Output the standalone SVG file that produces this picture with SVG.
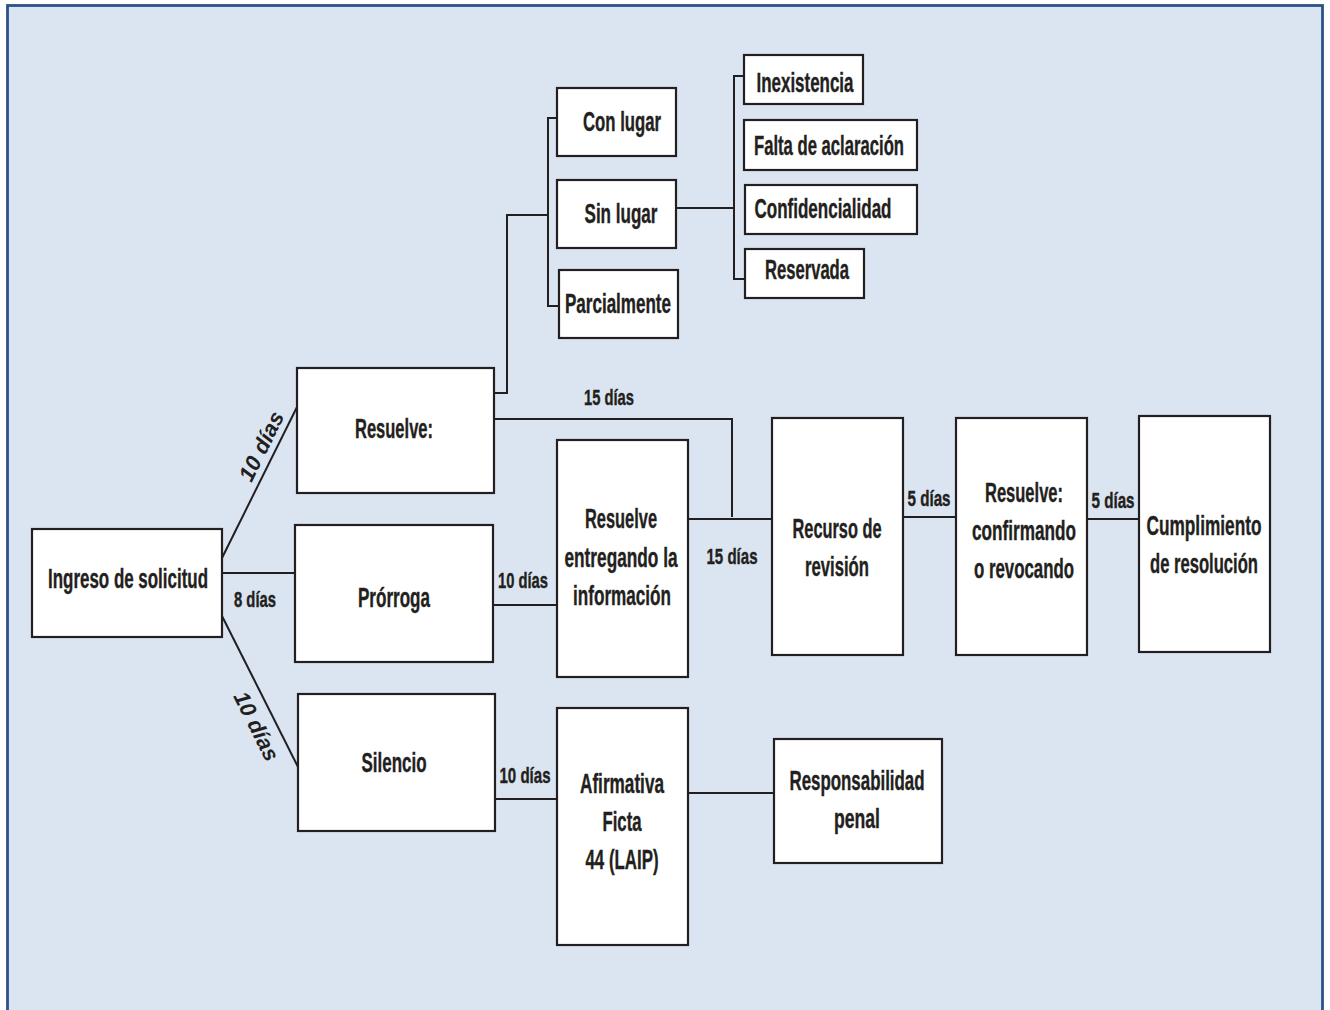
<svg xmlns="http://www.w3.org/2000/svg" width="1330" height="1010" viewBox="0 0 1330 1010">
<style>
.box{fill:#fff;stroke:#231f20;stroke-width:2.2}
.c{fill:none;stroke:#231f20;stroke-width:2}
.t{font-family:"Liberation Sans",Arial,sans-serif;font-weight:bold;font-size:27px;fill:#231f20;stroke:#231f20;stroke-width:0.4;text-anchor:middle}
.s{font-size:22px}
.r{font-family:"Liberation Sans",Arial,sans-serif;font-weight:bold;font-style:italic;font-size:22px;fill:#231f20;text-anchor:middle}
</style>
<rect x="0" y="0" width="1330" height="1010" fill="#fff"/>
<rect x="7.5" y="5.5" width="1315" height="1030" fill="#dbe5f1" stroke="#2b5289" stroke-width="2.8"/>
<g id="connectors">
<path class="c" d="M222,558 L297,407"/>
<path class="c" d="M222,573 H295"/>
<path class="c" d="M222,616 L298,767"/>
<path class="c" d="M494,393 H507 V215 H548"/>
<path class="c" d="M557,118 H548 V306 H559"/>
<path class="c" d="M676,208 H734"/>
<path class="c" d="M744,76 H734 V279 H745"/>
<path class="c" d="M494,419 H732 V517"/>
<path class="c" d="M688,519 H772"/>
<path class="c" d="M493,605 H557"/>
<path class="c" d="M903,517 H956"/>
<path class="c" d="M1087,519 H1139"/>
<path class="c" d="M495,799 H557"/>
<path class="c" d="M688,793 H774"/>
<text class="t s" x="609" y="405" textLength="50" lengthAdjust="spacingAndGlyphs">15 días</text>
<text class="t s" x="732" y="564" textLength="51" lengthAdjust="spacingAndGlyphs">15 días</text>
<text class="t s" x="523" y="588" textLength="50" lengthAdjust="spacingAndGlyphs">10 días</text>
<text class="t s" x="255" y="607" textLength="42" lengthAdjust="spacingAndGlyphs">8 días</text>
<text class="t s" x="525" y="783" textLength="51" lengthAdjust="spacingAndGlyphs">10 días</text>
<text class="t s" x="929" y="506" textLength="43" lengthAdjust="spacingAndGlyphs">5 días</text>
<text class="t s" x="1113" y="508" textLength="43" lengthAdjust="spacingAndGlyphs">5 días</text>
<text class="r" transform="translate(261,446) rotate(-63.6)" y="8">10 días</text>
<text class="r" transform="translate(257,726) rotate(63.3)" y="8">10 días</text>
</g>
<g id="ingreso"><rect class="box" x="32" y="529" width="190" height="108"/><text class="t" x="128" y="588" textLength="160" lengthAdjust="spacingAndGlyphs">Ingreso de solicitud</text></g>
<g id="resuelve"><rect class="box" x="297" y="368" width="197" height="125"/><text class="t" x="394" y="438" textLength="78" lengthAdjust="spacingAndGlyphs">Resuelve:</text></g>
<g id="prorroga"><rect class="box" x="295" y="525" width="198" height="137"/><text class="t" x="394" y="607" textLength="72" lengthAdjust="spacingAndGlyphs">Prórroga</text></g>
<g id="silencio"><rect class="box" x="298" y="694" width="197" height="137"/><text class="t" x="394" y="772" textLength="65" lengthAdjust="spacingAndGlyphs">Silencio</text></g>
<g id="entregando"><rect class="box" x="557" y="440" width="131" height="237"/>
<text class="t" x="621" y="528" textLength="72" lengthAdjust="spacingAndGlyphs">Resuelve</text>
<text class="t" x="621" y="567" textLength="113" lengthAdjust="spacingAndGlyphs">entregando la</text>
<text class="t" x="622" y="605" textLength="98" lengthAdjust="spacingAndGlyphs">información</text></g>
<g id="afirmativa"><rect class="box" x="557" y="708" width="131" height="237"/>
<text class="t" x="622" y="793" textLength="84" lengthAdjust="spacingAndGlyphs">Afirmativa</text>
<text class="t" x="622" y="831" textLength="39" lengthAdjust="spacingAndGlyphs">Ficta</text>
<text class="t" x="622" y="869" textLength="73" lengthAdjust="spacingAndGlyphs">44 (LAIP)</text></g>
<g id="responsabilidad"><rect class="box" x="774" y="739" width="168" height="124"/>
<text class="t" x="857" y="790" textLength="135" lengthAdjust="spacingAndGlyphs">Responsabilidad</text>
<text class="t" x="857" y="828" textLength="46" lengthAdjust="spacingAndGlyphs">penal</text></g>
<g id="recurso"><rect class="box" x="772" y="418" width="131" height="237"/>
<text class="t" x="837" y="538" textLength="89" lengthAdjust="spacingAndGlyphs">Recurso de</text>
<text class="t" x="837" y="576" textLength="64" lengthAdjust="spacingAndGlyphs">revisión</text></g>
<g id="confirmando"><rect class="box" x="956" y="418" width="131" height="237"/>
<text class="t" x="1024" y="502" textLength="78" lengthAdjust="spacingAndGlyphs">Resuelve:</text>
<text class="t" x="1024" y="540" textLength="104" lengthAdjust="spacingAndGlyphs">confirmando</text>
<text class="t" x="1024" y="578" textLength="100" lengthAdjust="spacingAndGlyphs">o revocando</text></g>
<g id="cumplimiento"><rect class="box" x="1139" y="416" width="131" height="236"/>
<text class="t" x="1204" y="535" textLength="115" lengthAdjust="spacingAndGlyphs">Cumplimiento</text>
<text class="t" x="1204" y="573" textLength="108" lengthAdjust="spacingAndGlyphs">de resolución</text></g>
<g id="conlugar"><rect class="box" x="557" y="88" width="119" height="68"/><text class="t" x="622" y="131" textLength="78" lengthAdjust="spacingAndGlyphs">Con lugar</text></g>
<g id="sinlugar"><rect class="box" x="557" y="180" width="119" height="68"/><text class="t" x="621" y="223" textLength="73" lengthAdjust="spacingAndGlyphs">Sin lugar</text></g>
<g id="parcialmente"><rect class="box" x="559" y="270" width="119" height="68"/><text class="t" x="618" y="313" textLength="106" lengthAdjust="spacingAndGlyphs">Parcialmente</text></g>
<g id="inexistencia"><rect class="box" x="744" y="55" width="119" height="49"/><text class="t" x="805" y="92" textLength="97" lengthAdjust="spacingAndGlyphs">Inexistencia</text></g>
<g id="falta"><rect class="box" x="744" y="120" width="173" height="50"/><text class="t" x="829" y="155" textLength="150" lengthAdjust="spacingAndGlyphs">Falta de aclaración</text></g>
<g id="confidencialidad"><rect class="box" x="745" y="185" width="172" height="49"/><text class="t" x="823" y="218" textLength="137" lengthAdjust="spacingAndGlyphs">Confidencialidad</text></g>
<g id="reservada"><rect class="box" x="745" y="249" width="119" height="49"/><text class="t" x="807" y="279" textLength="84" lengthAdjust="spacingAndGlyphs">Reservada</text></g>
</svg>
